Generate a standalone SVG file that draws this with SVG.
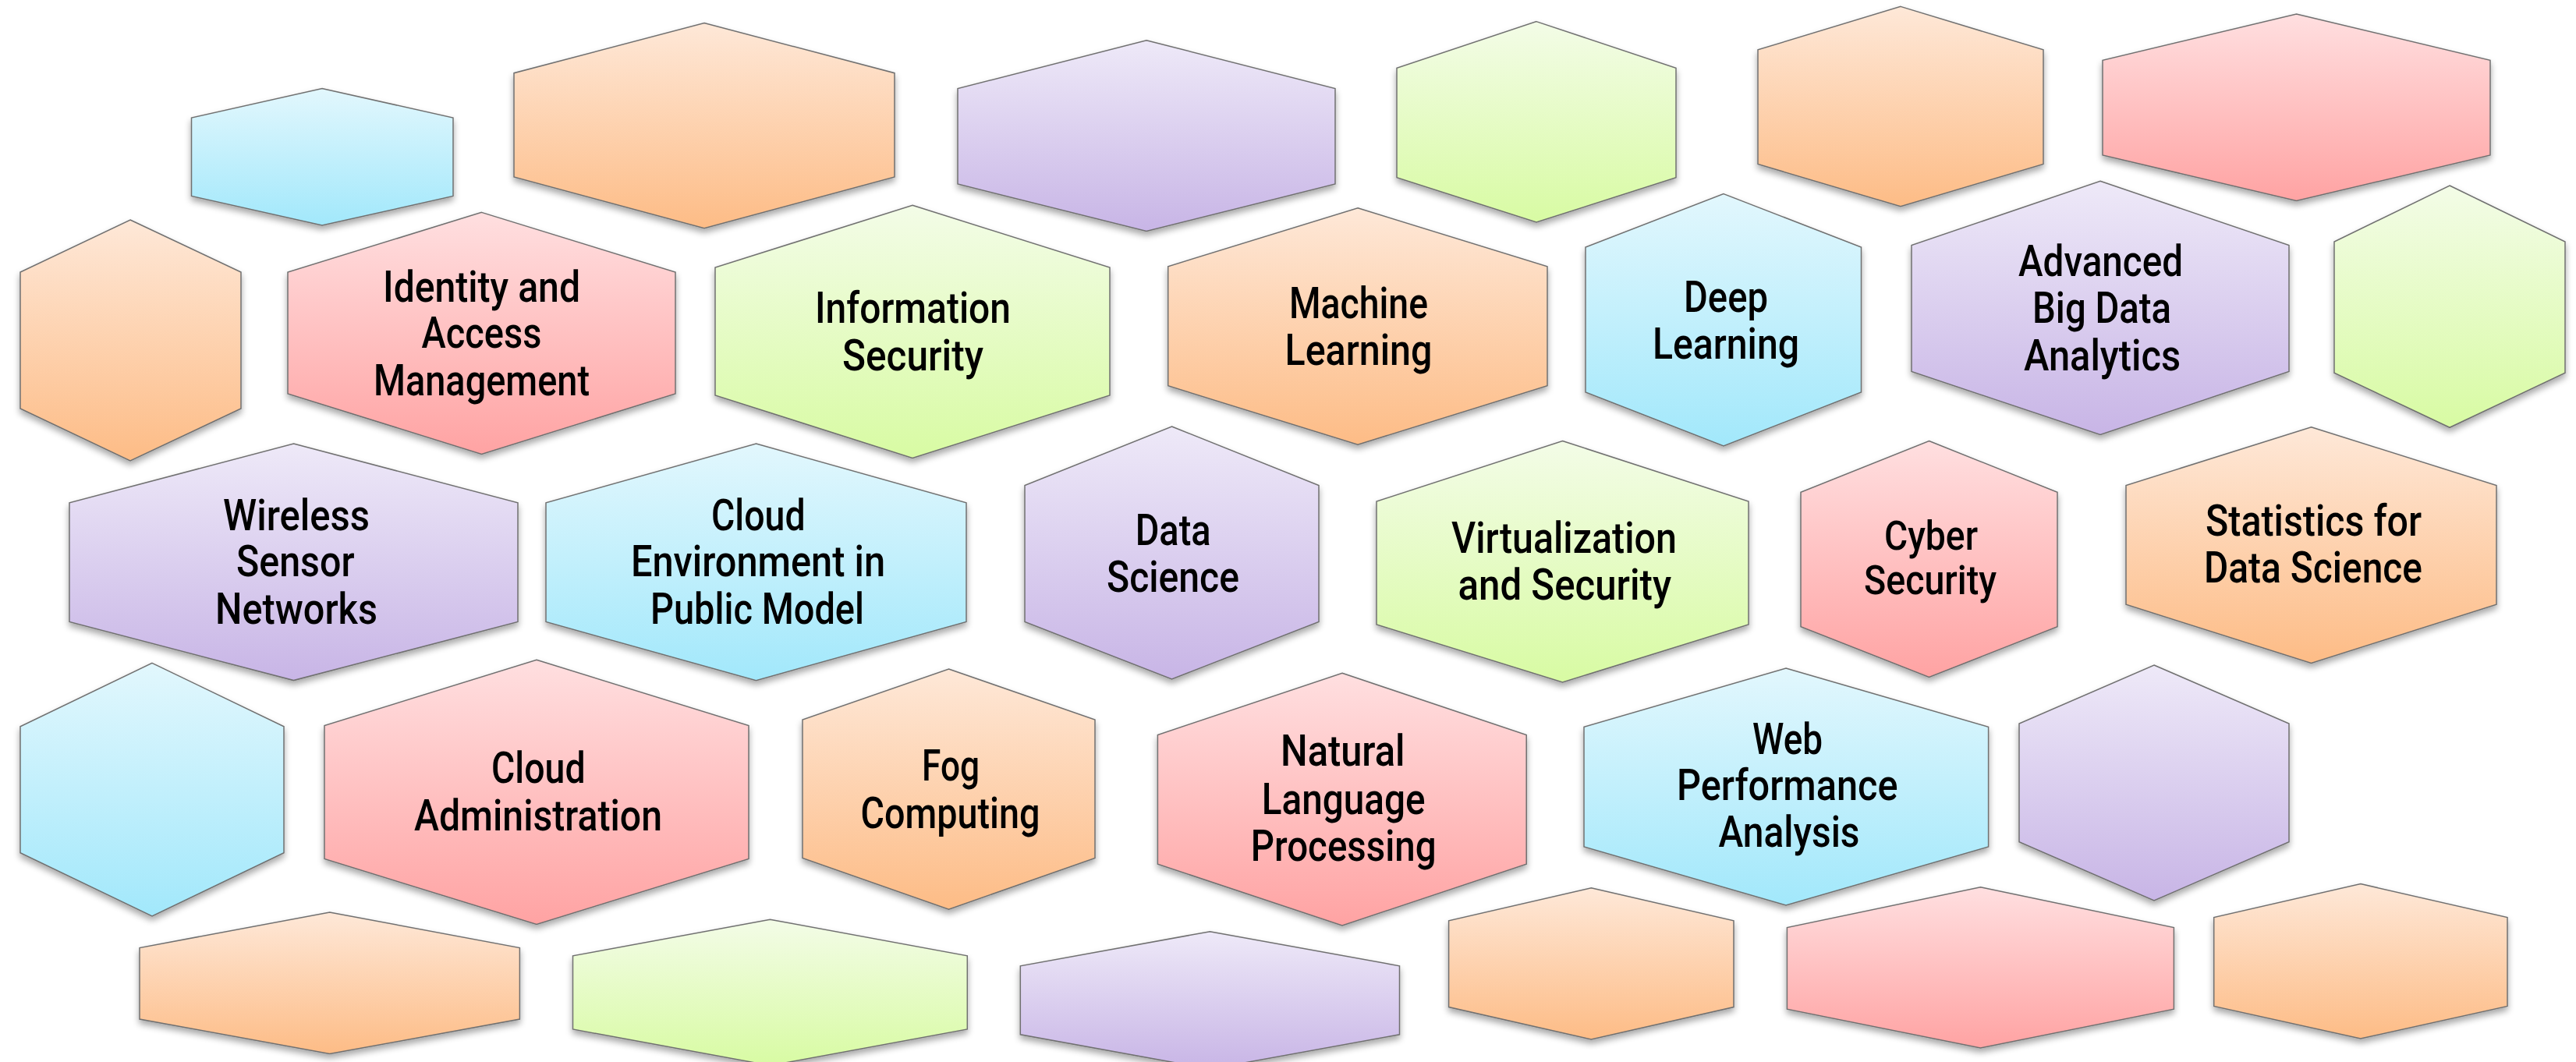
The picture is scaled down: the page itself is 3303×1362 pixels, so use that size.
<svg xmlns="http://www.w3.org/2000/svg" width="3303" height="1362" viewBox="0 0 3303 1362">
<defs>
<linearGradient id="gO" x1="0" y1="0" x2="0" y2="1"><stop offset="0" stop-color="#FEE8D8"/><stop offset="1" stop-color="#FDBC86"/></linearGradient>
<linearGradient id="gP" x1="0" y1="0" x2="0" y2="1"><stop offset="0" stop-color="#FFDFE0"/><stop offset="1" stop-color="#FFA3A3"/></linearGradient>
<linearGradient id="gG" x1="0" y1="0" x2="0" y2="1"><stop offset="0" stop-color="#F3FCE7"/><stop offset="1" stop-color="#D8FBA3"/></linearGradient>
<linearGradient id="gB" x1="0" y1="0" x2="0" y2="1"><stop offset="0" stop-color="#E2F7FD"/><stop offset="1" stop-color="#A2E8FB"/></linearGradient>
<linearGradient id="gV" x1="0" y1="0" x2="0" y2="1"><stop offset="0" stop-color="#EEE9F8"/><stop offset="1" stop-color="#C8B5E6"/></linearGradient>
<filter id="sh" x="-10%" y="-10%" width="120%" height="130%">
<feGaussianBlur in="SourceAlpha" stdDeviation="4"/>
<feOffset dx="0" dy="5" result="b"/>
<feComponentTransfer><feFuncA type="linear" slope="0.35"/></feComponentTransfer>
<feMerge><feMergeNode/><feMergeNode in="SourceGraphic"/></feMerge>
</filter>
<style>
.hex{stroke:#707070;stroke-width:1.5;filter:url(#sh);}
.o{fill:url(#gO);} .p{fill:url(#gP);} .g{fill:url(#gG);} .b{fill:url(#gB);} .v{fill:url(#gV);}
.lbl{font-family:Roboto,"Liberation Sans",Arial,sans-serif;font-weight:500;font-size:55px;fill:#000;}
.sm{font-size:51px;}
</style>
</defs>
<rect width="3303" height="1362" fill="#FFFFFF"/>
<g id="connectors"/>

<g id="hex-blue-1"><polygon class="hex b" points="413,113.6 581,151 581,251.5 413,289 245.5,251.5 245.5,151"/></g>
<g id="hex-orange-1"><polygon class="hex o" points="903,29.5 1147,93.7 1147,227 903,292.7 659,227 659,93.7"/></g>
<g id="hex-purple-1"><polygon class="hex v" points="1470,51.7 1712,113.6 1712,236 1470,296.6 1228,236 1228,113.6"/></g>
<g id="hex-green-2"><polygon class="hex g" points="1970,27.6 2149,87.2 2149,227.7 1970,285 1791,227.7 1791,87.2"/></g>
<g id="hex-orange-4"><polygon class="hex o" points="2437,8.4 2620,63.9 2620,210.5 2437,264.8 2254,210.5 2254,63.9"/></g>
<g id="hex-pink-2"><polygon class="hex p" points="2944.5,18 3193,77.3 3193,199 2944.5,257.5 2696,199 2696,77.3"/></g>

<g id="hex-orange-2"><polygon class="hex o" points="167,282 309,349 309,524 167,591 26,524 26,349"/></g>
<g id="identity-access-management">
<polygon class="hex p" points="617.5,272.4 866,349 866,505 617.5,582.4 369,505 369,349"/>
<text class="lbl" x="491" y="386.5" textLength="253" lengthAdjust="spacingAndGlyphs">Identity and</text>
<text class="lbl" x="540.5" y="445.8" textLength="154" lengthAdjust="spacingAndGlyphs">Access</text>
<text class="lbl" x="479" y="507" textLength="277" lengthAdjust="spacingAndGlyphs">Management</text>
</g>
<g id="information-security">
<polygon class="hex g" points="1170,263.3 1423,343 1423,507 1170,587.4 917,507 917,343"/>
<text class="lbl" x="1045" y="414.4" textLength="251" lengthAdjust="spacingAndGlyphs">Information</text>
<text class="lbl" x="1080" y="474.5" textLength="181" lengthAdjust="spacingAndGlyphs">Security</text>
</g>
<g id="machine-learning">
<polygon class="hex o" points="1741,266.7 1984,341.7 1984,494.8 1741,570.2 1497.7,494.8 1497.7,341.7"/>
<text class="lbl" x="1653" y="407.5" textLength="178" lengthAdjust="spacingAndGlyphs">Machine</text>
<text class="lbl" x="1647.5" y="467.6" textLength="189" lengthAdjust="spacingAndGlyphs">Learning</text>
</g>
<g id="deep-learning">
<polygon class="hex b" points="2210,248.6 2386.5,317 2386.5,503 2210,572 2033,503 2033,317"/>
<text class="lbl" x="2159" y="400" textLength="108" lengthAdjust="spacingAndGlyphs">Deep</text>
<text class="lbl" x="2119" y="459.5" textLength="188" lengthAdjust="spacingAndGlyphs">Learning</text>
</g>
<g id="advanced-big-data-analytics">
<polygon class="hex v" points="2693,232.3 2935,314.5 2935,476.4 2693,557.5 2451,476.4 2451,314.5"/>
<text class="lbl" x="2588" y="354" textLength="211" lengthAdjust="spacingAndGlyphs">Advanced</text>
<text class="lbl" x="2606" y="414" textLength="178" lengthAdjust="spacingAndGlyphs">Big Data</text>
<text class="lbl" x="2595" y="474.5" textLength="201" lengthAdjust="spacingAndGlyphs">Analytics</text>
</g>
<g id="hex-green-3"><polygon class="hex g" points="3141,238 3289,310 3289,478.3 3141,548.3 2993,478.3 2993,310"/></g>

<g id="wireless-sensor-networks">
<polygon class="hex v" points="376.5,569 664,644.8 664,797.5 376.5,872.6 89,797.5 89,644.8"/>
<text class="lbl" x="286" y="679.5" textLength="188" lengthAdjust="spacingAndGlyphs">Wireless</text>
<text class="lbl" x="303" y="739" textLength="151.5" lengthAdjust="spacingAndGlyphs">Sensor</text>
<text class="lbl" x="276" y="800" textLength="208" lengthAdjust="spacingAndGlyphs">Networks</text>
</g>
<g id="cloud-environment-public-model">
<polygon class="hex b" points="969.5,569 1239,644.8 1239,797.5 969.5,872.6 700,797.5 700,644.8"/>
<text class="lbl" x="912" y="679.5" textLength="120.6" lengthAdjust="spacingAndGlyphs">Cloud</text>
<text class="lbl" x="809" y="739" textLength="326" lengthAdjust="spacingAndGlyphs">Environment in</text>
<text class="lbl" x="834" y="800" textLength="274" lengthAdjust="spacingAndGlyphs">Public Model</text>
</g>
<g id="data-science">
<polygon class="hex v" points="1502.5,547 1691,622.5 1691,797.5 1502.5,871 1314,797.5 1314,622.5"/>
<text class="lbl" x="1455.7" y="698.6" textLength="97" lengthAdjust="spacingAndGlyphs">Data</text>
<text class="lbl" x="1419" y="758.7" textLength="170" lengthAdjust="spacingAndGlyphs">Science</text>
</g>
<g id="virtualization-security">
<polygon class="hex g" points="2003.5,565.5 2242,643 2242,801 2003.5,875 1765,801 1765,643"/>
<text class="lbl" x="1861" y="709" textLength="289" lengthAdjust="spacingAndGlyphs">Virtualization</text>
<text class="lbl" x="1869.5" y="768.5" textLength="273.5" lengthAdjust="spacingAndGlyphs">and Security</text>
</g>
<g id="cyber-security">
<polygon class="hex p" points="2473.5,565.5 2638,631.3 2638,803.8 2473.5,868.5 2309,803.8 2309,631.3"/>
<text class="lbl sm" x="2416" y="705.4" textLength="120" lengthAdjust="spacingAndGlyphs">Cyber</text>
<text class="lbl sm" x="2390" y="762.3" textLength="170" lengthAdjust="spacingAndGlyphs">Security</text>
</g>
<g id="statistics-data-science">
<polygon class="hex o" points="2963.5,547.7 3201,622.5 3201,775.3 2963.5,850.4 2726,775.3 2726,622.5"/>
<text class="lbl" x="2828" y="687.2" textLength="277" lengthAdjust="spacingAndGlyphs">Statistics for</text>
<text class="lbl" x="2826" y="746.8" textLength="280" lengthAdjust="spacingAndGlyphs">Data Science</text>
</g>

<g id="hex-blue-4"><polygon class="hex b" points="195,850.4 364,931.7 364,1093.8 195,1175 26,1093.8 26,931.7"/></g>
<g id="cloud-administration">
<polygon class="hex p" points="688,846.2 960,930.6 960,1101.5 688,1185.4 416,1101.5 416,930.6"/>
<text class="lbl" x="630" y="1004" textLength="120.6" lengthAdjust="spacingAndGlyphs">Cloud</text>
<text class="lbl" x="531" y="1065.3" textLength="318" lengthAdjust="spacingAndGlyphs">Administration</text>
</g>
<g id="fog-computing">
<polygon class="hex o" points="1216.5,858 1404,923 1404,1100.5 1216.5,1166.2 1029,1100.5 1029,923"/>
<text class="lbl" x="1182" y="1000.5" textLength="74" lengthAdjust="spacingAndGlyphs">Fog</text>
<text class="lbl" x="1103.5" y="1061.6" textLength="230" lengthAdjust="spacingAndGlyphs">Computing</text>
</g>
<g id="natural-language-processing">
<polygon class="hex p" points="1721,863.3 1957.2,942.5 1957.2,1108.2 1721,1187 1484.4,1108.2 1484.4,942.5"/>
<text class="lbl" x="1642" y="982.4" textLength="159.5" lengthAdjust="spacingAndGlyphs">Natural</text>
<text class="lbl" x="1617.7" y="1043.5" textLength="210" lengthAdjust="spacingAndGlyphs">Language</text>
<text class="lbl" x="1603.7" y="1104" textLength="238" lengthAdjust="spacingAndGlyphs">Processing</text>
</g>
<g id="web-performance-analysis">
<polygon class="hex b" points="2290,857 2549.6,932.2 2549.6,1086 2290,1161 2031,1086 2031,932.2"/>
<text class="lbl" x="2247" y="967" textLength="90" lengthAdjust="spacingAndGlyphs">Web</text>
<text class="lbl" x="2150" y="1026.4" textLength="283.5" lengthAdjust="spacingAndGlyphs">Performance</text>
<text class="lbl" x="2203.5" y="1086" textLength="181" lengthAdjust="spacingAndGlyphs">Analysis</text>
</g>
<g id="hex-purple-5"><polygon class="hex v" points="2762,853 2935,928 2935,1079.8 2762,1155 2589,1079.8 2589,928"/></g>

<g id="hex-orange-5"><polygon class="hex o" points="422.7,1170 666.4,1215.5 666.4,1307 422.7,1351.6 179,1307 179,1215.5"/></g>
<g id="hex-green-4"><polygon class="hex g" points="987.4,1179.2 1240.3,1225.8 1240.3,1320 987.4,1366.6 734.5,1320 734.5,1225.8"/></g>
<g id="hex-purple-6"><polygon class="hex v" points="1551.4,1194.7 1794.5,1238.8 1794.5,1326.8 1551.4,1371 1308.3,1326.8 1308.3,1238.8"/></g>
<g id="hex-orange-7"><polygon class="hex o" points="2040.3,1138.8 2223,1180.8 2223,1291.6 2040.3,1333 1857.6,1291.6 1857.6,1180.8"/></g>
<g id="hex-pink-6"><polygon class="hex p" points="2539.4,1137.8 2787.4,1189.6 2787.4,1294.2 2539.4,1344 2291.4,1294.2 2291.4,1189.6"/></g>
<g id="hex-orange-9"><polygon class="hex o" points="3026.8,1133.6 3215,1176.6 3215,1290.5 3026.8,1332 2838.7,1290.5 2838.7,1176.6"/></g>
</svg>
